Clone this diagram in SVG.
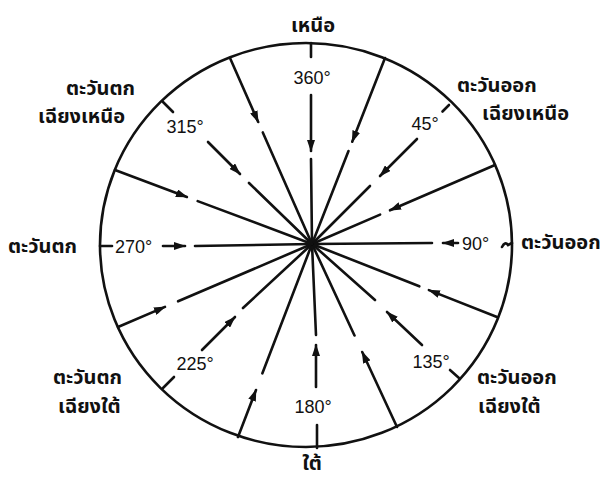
<svg xmlns="http://www.w3.org/2000/svg" width="613" height="480" viewBox="0 0 613 480">
<style>
.ln{stroke:#111;stroke-width:2.6;fill:none;stroke-linecap:round}
.ar{marker-end:url(#ah)}
.deg{font-family:"Liberation Sans",Arial,sans-serif;font-size:18px;fill:#111}
.th{font-family:"Noto Sans Thai","Noto Sans","DejaVu Sans",sans-serif;font-size:20px;font-weight:bold;fill:#111}
</style>
<defs>
<marker id="ah" markerUnits="userSpaceOnUse" markerWidth="12" markerHeight="8" refX="11" refY="4" orient="auto">
<path d="M0,0 L12,4 L0,8 z" fill="#111"/>
</marker>
</defs>
<rect width="613" height="480" fill="#fff"/>
<g id="circle"><ellipse cx="306" cy="245" rx="206" ry="202" class="ln"/></g>
<g id="connectors">
<path class="ln" d="M311,43 L311,57"/>
<path class="ln ar" d="M311,95 L311,151"/>
<path class="ln" d="M311,159 L312,244"/>
<path class="ln ar" d="M385,58 L352.2,141.7"/>
<path class="ln" d="M348.5,151 L312,244"/>
<path class="ln" d="M449,105 L442.5,111.5"/>
<path class="ln ar" d="M417,139 L380,176"/>
<path class="ln" d="M370,186 L312,244"/>
<path class="ln ar" d="M495,165 L390,210.3"/>
<path class="ln" d="M380.1,214.6 L312,244"/>
<path class="ln" d="M312,244 L432,243"/>
<path class="ln ar" d="M458,243 L443,243"/>
<path class="ln" d="M502,247 Q505,241 508,245 L512,243"/>
<path class="ln ar" d="M497,317 L428.9,290.1"/>
<path class="ln" d="M419.3,286.3 L312,244"/>
<path class="ln" d="M459,378 L450,370"/>
<path class="ln ar" d="M422,345 L387,312"/>
<path class="ln" d="M375,300 L312,244"/>
<path class="ln ar" d="M397,427 L362.2,352"/>
<path class="ln" d="M354.5,335.5 L312,244"/>
<path class="ln" d="M317,448 L317,425"/>
<path class="ln ar" d="M316,387 L316,345"/>
<path class="ln" d="M316,335 L312,244"/>
<path class="ln ar" d="M238,437 L256,390"/>
<path class="ln" d="M262.4,373.3 L312,244"/>
<path class="ln" d="M163,388 L174,377"/>
<path class="ln ar" d="M202,350 L235,317"/>
<path class="ln" d="M243,308 L312,244"/>
<path class="ln ar" d="M118,327 L165,306.9"/>
<path class="ln" d="M178.1,301.3 L312,244"/>
<path class="ln" d="M100,246 L112,246"/>
<path class="ln ar" d="M163,246 L185,246"/>
<path class="ln" d="M195,246 L312,244"/>
<path class="ln ar" d="M115,170 L186.9,197"/>
<path class="ln" d="M197.7,201.1 L312,244"/>
<path class="ln" d="M163,102 L173,112"/>
<path class="ln ar" d="M208,142 L240,174"/>
<path class="ln" d="M249,183 L312,244"/>
<path class="ln ar" d="M230,58 L258.2,122"/>
<path class="ln" d="M262.8,132.4 L312,244"/>
</g>
<g id="n"><text class="th" x="313" y="32" text-anchor="middle">เหนือ</text><text class="deg" x="312" y="84" text-anchor="middle">360°</text></g>
<g id="ne"><text class="th" x="457" y="92">ตะวันออก</text><text class="th" x="482" y="120">เฉียงเหนือ</text><text class="deg" x="425" y="130" text-anchor="middle">45°</text></g>
<g id="e"><text class="th" x="521" y="249">ตะวันออก</text><text class="deg" x="462" y="250">90°</text></g>
<g id="se"><text class="th" x="477" y="384">ตะวันออก</text><text class="th" x="478" y="413">เฉียงใต้</text><text class="deg" x="431" y="368" text-anchor="middle">135°</text></g>
<g id="s"><text class="th" x="312" y="470" text-anchor="middle">ใต้</text><text class="deg" x="313" y="413" text-anchor="middle">180°</text></g>
<g id="sw"><text class="th" x="53" y="384">ตะวันตก</text><text class="th" x="58" y="413">เฉียงใต้</text><text class="deg" x="195" y="370" text-anchor="middle">225°</text></g>
<g id="w"><text class="th" x="8" y="253">ตะวันตก</text><text class="deg" x="115" y="253">270°</text></g>
<g id="nw"><text class="th" x="66" y="95">ตะวันตก</text><text class="th" x="38" y="123">เฉียงเหนือ</text><text class="deg" x="185" y="133" text-anchor="middle">315°</text></g>
</svg>
